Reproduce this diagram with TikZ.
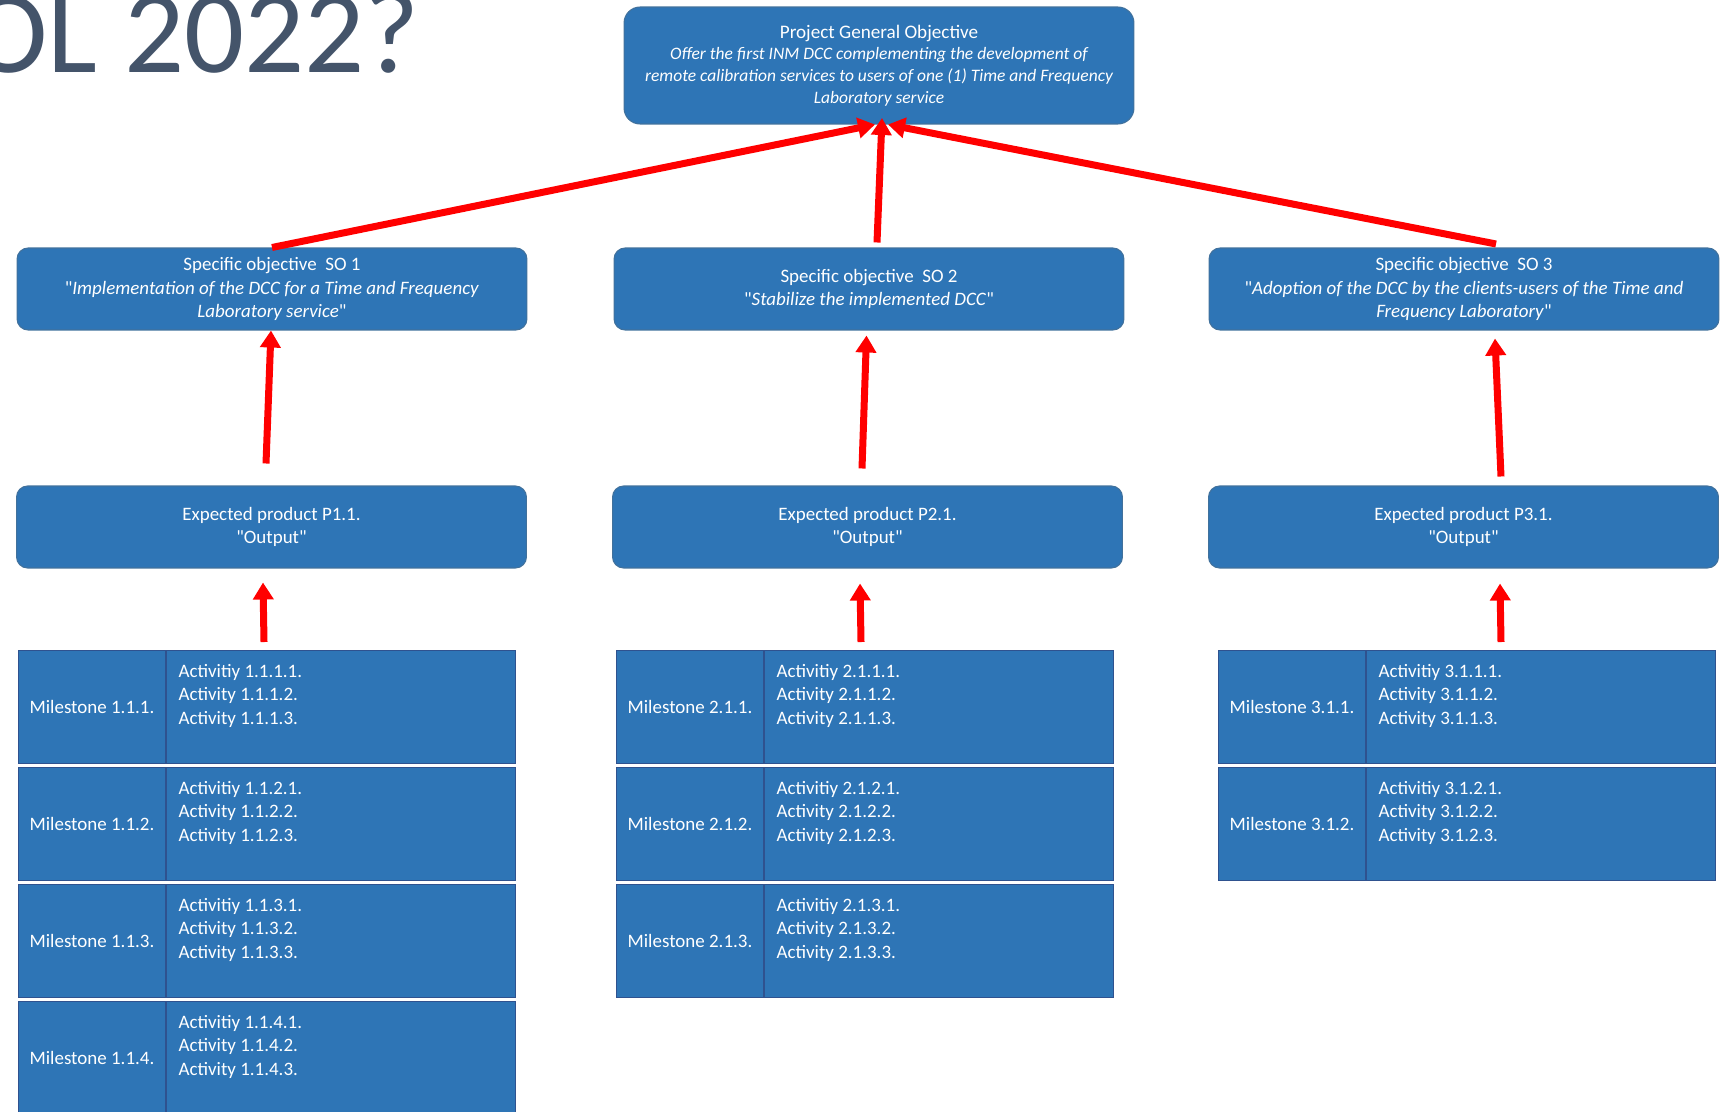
\documentclass[tikz,border=0pt]{standalone}
\usepackage{fontspec}
\setmainfont{Carlito}[Ligatures=TeXOff]
\usetikzlibrary{arrows.meta}
\definecolor{boxblue}{RGB}{46,117,182}
\definecolor{boxline}{RGB}{65,113,156}
\definecolor{cellline}{RGB}{47,82,143}
\definecolor{titlegray}{RGB}{68,84,106}
\tikzset{
  goalbox/.style={fill=boxblue, draw=boxline, line width=0.6pt, text=white, align=center,
    minimum width=10.2cm, minimum height=1.64cm, rounded corners=0.22cm,
    font=\fontsize{10.8}{13.4}\selectfont},
  mcell/.style={fill=boxblue, draw=cellline, line width=0.6pt, text=white, inner sep=0pt,
    minimum width=2.94cm, minimum height=2.26cm, font=\fontsize{10.8}{13.4}\selectfont},
  acell/.style={mcell, minimum width=6.98cm},
  upar/.style={draw=red, line width=0.14cm, -{Triangle[width=0.4cm,length=0.34cm]}},
  titletext/.style={text=titlegray, inner sep=0pt, font=\fontsize{67.5}{70}\selectfont}
}
% italic line of the general objective
\def\goalit#1{{\fontsize{9.95}{12.4}\selectfont\itshape #1}}
% one milestone row: (id)(left,top){number}
\def\milerow(#1)(#2,#3)#4{%
  \node[mcell, anchor=north west] (m#1) at (#2,#3) {Milestone #4.};
  \node[acell, anchor=north west] (a#1) at (m#1.north east)
    {\parbox[c][1.72cm][t]{6.5cm}{Activitiy #4.1.\\Activity #4.2.\\Activity #4.3.}};
}

\begin{document}
\begin{tikzpicture}[x=0.02cm, y=-0.02cm]
		%%%%% START %%%%%
		\useasboundingbox (0,0) rectangle (1724,1112);
		\clip (0,0) rectangle (1724,1112);
		
		\node[titletext, anchor=base west] (title) at (-31,72) {OL 2022?};
		
		\node[goalbox, minimum height=2.34cm, rounded corners=0.32cm, font=\fontsize{10.9}{12.4}\selectfont] (top) at (879,65.5)
			{Project General Objective\\
			\goalit{Offer the first INM DCC complementing the development of}\\
			\goalit{remote calibration services to users of one (1) Time and Frequency}\\
			\goalit{Laboratory service}};
		
		\node[goalbox] (so1) at (272,289) {Specific objective\ \ SO 1\\
			"\textit{Implementation of the DCC for a Time and Frequency}\\
			\textit{Laboratory service}"};
		\node[goalbox] (so2) at (869,289) {Specific objective\ \ SO 2\\
			"\textit{Stabilize the implemented DCC}"};
		\node[goalbox] (so3) at (1464,289) {Specific objective\ \ SO 3\\
			"\textit{Adoption of the DCC by the clients-users of the Time and}\\
			\textit{Frequency Laboratory}"};
		
		\node[goalbox] (p1) at (271.5,527) {Expected product P1.1.\\"Output"};
		\node[goalbox] (p2) at (867.5,527) {Expected product P2.1.\\"Output"};
		\node[goalbox] (p3) at (1463.5,527) {Expected product P3.1.\\"Output"};
		
		\milerow(111)(18,650){1.1.1}
		\milerow(112)(18,767){1.1.2}
		\milerow(113)(18,884){1.1.3}
		\milerow(114)(18,1001){1.1.4}
		
		\milerow(211)(616,650){2.1.1}
		\milerow(212)(616,767){2.1.2}
		\milerow(213)(616,884){2.1.3}
		
		\milerow(311)(1218,650){3.1.1}
		\milerow(312)(1218,767){3.1.2}
		
		\draw[upar] (so1.north) -- ([xshift=-0.08cm]top.south);
		\draw[upar] ([xshift=0.16cm, yshift=0.1cm]so2.north) -- ([xshift=0.06cm, yshift=0.13cm]top.south);
		\draw[upar] ([xshift=0.64cm, yshift=0.07cm]so3.north) -- ([xshift=0.18cm]top.south);
		
		\draw[upar] ([xshift=-0.11cm, yshift=0.44cm]p1.north) -- ([xshift=-0.02cm]so1.south);
		\draw[upar] ([xshift=-0.11cm, yshift=0.34cm]p2.north) -- ([xshift=-0.05cm, yshift=-0.1cm]so2.south);
		\draw[upar] ([xshift=0.75cm, yshift=0.18cm]p3.north) -- ([xshift=0.62cm, yshift=-0.16cm]so3.south);
		
		\draw[upar] ([xshift=1.96cm, yshift=0.16cm]a111.north west) -- ([xshift=-0.17cm, yshift=-0.28cm]p1.south);
		\draw[upar] ([xshift=1.94cm, yshift=0.16cm]a211.north west) -- ([xshift=-0.15cm, yshift=-0.3cm]p2.south);
		\draw[upar] ([xshift=2.7cm, yshift=0.16cm]a311.north west) -- ([xshift=0.73cm, yshift=-0.3cm]p3.south);
		
		%%%%% END %%%%%
\end{tikzpicture}
\end{document}
